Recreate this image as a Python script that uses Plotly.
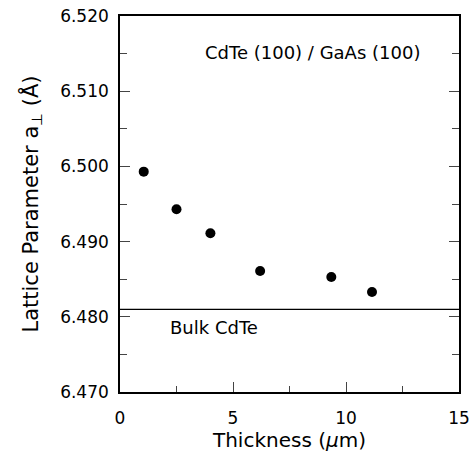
import plotly.graph_objects as go

# Data
thickness_um = [1.05, 2.5, 4.0, 6.2, 9.35, 11.15]
lattice_param = [6.4993, 6.4943, 6.4911, 6.4861, 6.4853, 6.4833]
bulk_cdte = 6.481
x_ticks = [0, 5, 10, 15]
y_ticks = [6.470, 6.480, 6.490, 6.500, 6.510, 6.520]
y_tick_labels = ["6.470", "6.480", "6.490", "6.500", "6.510", "6.520"]

FONT = "DejaVu Sans"

fig = go.Figure()
fig.add_trace(go.Scatter(
    x=thickness_um, y=lattice_param, mode="markers",
    marker=dict(color="black", size=10), showlegend=False,
))
fig.add_hline(y=bulk_cdte, line=dict(color="black", width=1.2))

fig.add_annotation(x=8.5, y=6.5152, text="CdTe (100) / GaAs (100)",
                   showarrow=False, font=dict(family=FONT, size=18, color="black"))
fig.add_annotation(x=4.18, y=6.4786, text="Bulk CdTe",
                   showarrow=False, font=dict(family=FONT, size=18, color="black"))

fig.update_layout(
    width=474, height=454,
    margin=dict(l=120, r=15, t=16, b=62),
    paper_bgcolor="white", plot_bgcolor="white",
    font=dict(family=FONT, color="black"),
)
fig.update_xaxes(
    range=[0, 15], tickvals=x_ticks, ticks="inside", ticklen=10, tickwidth=1.3,
    minor=dict(dtick=2.5, ticks="inside", ticklen=6, tickwidth=1.3, showgrid=False),
    showline=True, linecolor="black", linewidth=1.6, mirror=True,
    showgrid=False, zeroline=False, tickfont=dict(size=17),
    ticklabelstandoff=10, automargin=False,
    title=dict(text="Thickness (<i>μ</i>m)", font=dict(size=20), standoff=6),
)
fig.update_yaxes(
    range=[6.470, 6.520], tickvals=y_ticks, ticktext=y_tick_labels,
    ticks="inside", ticklen=10, tickwidth=1.3,
    minor=dict(dtick=0.005, tick0=6.470, ticks="inside", ticklen=7, tickwidth=1.3, showgrid=False),
    showline=True, linecolor="black", linewidth=1.6, mirror="ticks",
    showgrid=False, zeroline=False, tickfont=dict(size=17),
    ticklabelstandoff=6, automargin=False,
    title=dict(text="Lattice Parameter a<sub>⊥</sub> (Å)", font=dict(size=21), standoff=16),
)

# remove the browser's default 8px body margin so the figure fills the window exactly
fig.write_html("out.html", config={"displayModeBar": False},
               post_script="document.body.style.margin='0';")
